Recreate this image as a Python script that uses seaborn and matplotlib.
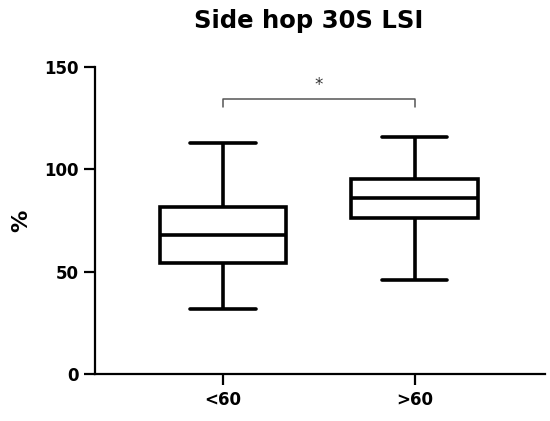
import pandas as pd
import numpy as np
import matplotlib.pyplot as plt
import seaborn as sns

# summary values: min, Q1, median, Q3, max
groups = ['<60', '>60']
under60 = [31.6, 54.4, 67.9, 81.4, 112.7]
over60 = [45.9, 76.1, 85.8, 95.1, 115.6]
yticks = [0, 50, 100, 150]

df = pd.DataFrame({
    'group': [groups[0]] * len(under60) + [groups[1]] * len(over60),
    'value': under60 + over60,
})

sns.set_style('ticks')
plt.rcParams['font.family'] = ['DejaVu Sans']
plt.rcParams['text.color'] = 'black'
plt.rcParams['axes.labelcolor'] = 'black'
plt.rcParams['axes.edgecolor'] = 'black'

fig = plt.figure(figsize=(5.5, 4.21), dpi=100)
ax = fig.add_axes([0.173, 0.112, 0.818, 0.729])

lw = 2.6
sns.boxplot(data=df, x='group', y='value', whis=(0, 100), width=0.66,
            color='white', linewidth=lw, fliersize=0, ax=ax,
            boxprops=dict(edgecolor='black', linewidth=lw),
            medianprops=dict(color='black', linewidth=lw),
            whiskerprops=dict(color='black', linewidth=lw),
            capprops=dict(color='black', linewidth=lw), capwidths=0.34)

# significance bracket
ax.plot([0, 0, 1, 1], [130.5, 134.2, 134.2, 130.5], color='#555555', lw=1.1, clip_on=False)
ax.text(0.5, 137, '*', ha='center', va='bottom', fontsize=12, color='#333333')

ax.set_xlim(-0.667, 1.68)
ax.set_ylim(0, 150)
ax.set_yticks(yticks)
ax.set_xlabel('')
ax.set_ylabel('%', fontsize=16, fontweight='bold', labelpad=10)
fig.text(309 / 550, 1 - 28 / 421, 'Side hop 30S LSI', ha='center', va='baseline',
         fontsize=17.5, fontweight='bold')

for side in ['top', 'right']:
    ax.spines[side].set_visible(False)
for side in ['left', 'bottom']:
    ax.spines[side].set_linewidth(1.6)
ax.tick_params(axis='both', width=1.6, length=8, labelsize=12, colors='black')
ax.tick_params(axis='x', pad=4)
for lab in ax.get_xticklabels() + ax.get_yticklabels():
    lab.set_fontweight('bold')

plt.savefig('out.png', dpi=100)
